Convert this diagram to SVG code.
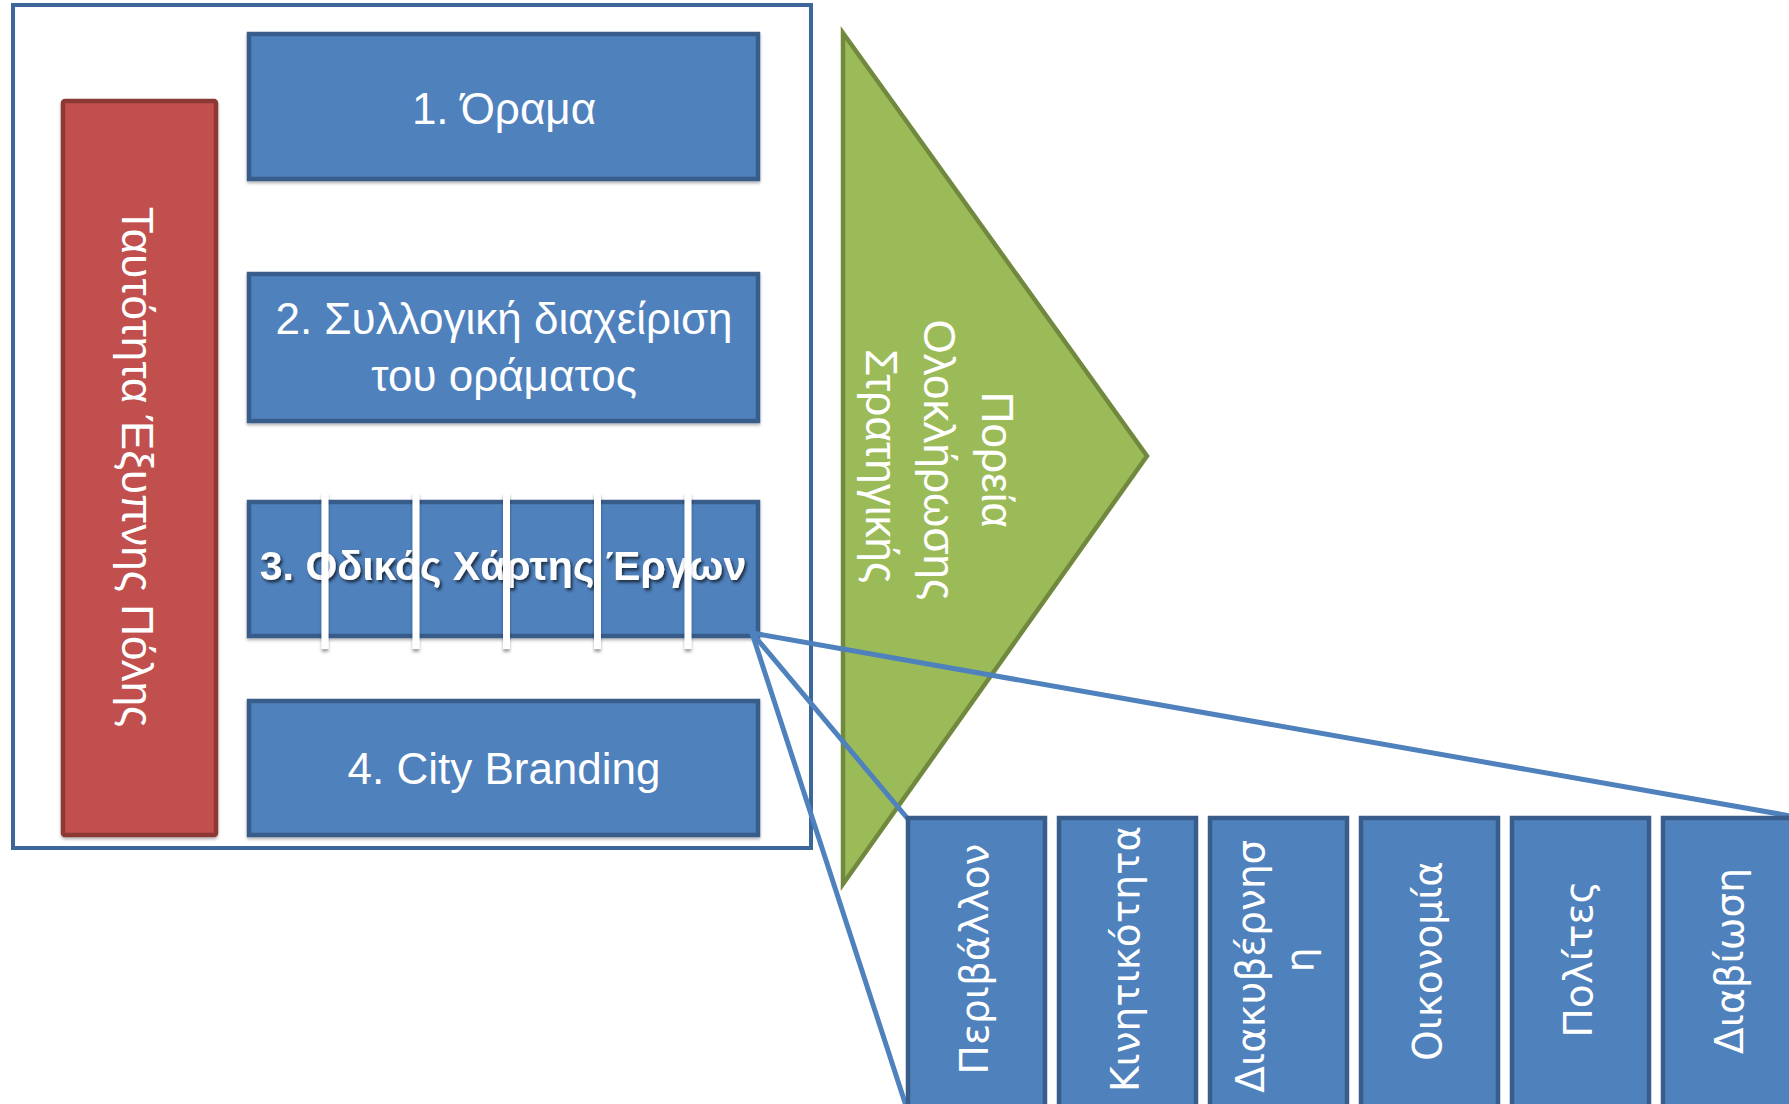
<svg xmlns="http://www.w3.org/2000/svg" width="1789" height="1104" viewBox="0 0 1789 1104">
  <defs>
    <filter id="boxShadow" x="-10%" y="-10%" width="120%" height="130%">
      <feDropShadow dx="0" dy="2" stdDeviation="1.5" flood-color="#000" flood-opacity="0.3"/>
    </filter>
    <filter id="textShadow" x="-10%" y="-30%" width="120%" height="160%">
      <feDropShadow dx="2" dy="2.5" stdDeviation="1.5" flood-color="#000" flood-opacity="0.65"/>
    </filter>
    <filter id="barShadow" x="-100%" y="-10%" width="300%" height="120%">
      <feDropShadow dx="0" dy="3" stdDeviation="1.5" flood-color="#000" flood-opacity="0.35"/>
    </filter>
  </defs>
  <style>
    .frame { fill: #fff; stroke: #3D679B; stroke-width: 4; }
    .blue { fill: #4F81BD; stroke: #385D8A; stroke-width: 4.5; }
    .red { fill: #C0504D; stroke: #8C3836; stroke-width: 4.5; }
    .green { fill: #9BBB59; stroke: #71893F; stroke-width: 4.5; stroke-linejoin: miter; }
    .t { font-family: "Liberation Sans", Arial, sans-serif; font-size: 44px; fill: #fff; text-anchor: middle; }
    .tb { font-family: "Liberation Sans", Arial, sans-serif; font-size: 41px; font-weight: bold; fill: #fff; text-anchor: middle; }
    .ts { font-family: "DejaVu Sans", Verdana, sans-serif; font-size: 39px; fill: #fff; text-anchor: middle; }
    .bar { fill: #fff; }
    .conn { stroke: #4F81BD; stroke-width: 5; fill: none; stroke-linecap: round; }
  </style>

  <g id="frame">
    <rect class="frame" x="13" y="5" width="798" height="843"/>
  </g>

  <g id="identity">
    <rect class="red" x="63" y="101" width="153" height="734" rx="2" filter="url(#boxShadow)"/>
    <text class="t" transform="translate(122,467) rotate(90)" x="0" y="0">Ταυτότητα Έξυπνης Πόλης</text>
  </g>

  <g id="box1">
    <rect class="blue" x="249" y="34" width="509" height="145" filter="url(#boxShadow)"/>
    <text class="t" x="504" y="124">1. Όραμα</text>
  </g>

  <g id="box2">
    <rect class="blue" x="249" y="274" width="509" height="147" filter="url(#boxShadow)"/>
    <text class="t" x="504" y="334">2. Συλλογική διαχείριση</text>
    <text class="t" x="504" y="391">του οράματος</text>
  </g>

  <g id="box3">
    <rect class="blue" x="249" y="502" width="509" height="134" filter="url(#boxShadow)"/>
    <text class="tb" x="503" y="580" filter="url(#textShadow)">3. Οδικός Χάρτης Έργων</text>
    <g filter="url(#barShadow)">
      <rect class="bar" x="321.5" y="492" width="7" height="157"/>
      <rect class="bar" x="412.5" y="492" width="7" height="157"/>
      <rect class="bar" x="503" y="492" width="7" height="157"/>
      <rect class="bar" x="594" y="492" width="7" height="157"/>
      <rect class="bar" x="684.5" y="492" width="7" height="157"/>
    </g>
  </g>

  <g id="box4">
    <rect class="blue" x="249" y="701" width="509" height="134" filter="url(#boxShadow)"/>
    <text class="t" x="504" y="784">4. City Branding</text>
  </g>

  <g id="strategy">
    <polygon class="green" points="843,33 1147,456 843,884"/>
    <text class="t" transform="translate(0,466) rotate(90)">
      <tspan x="0" y="-982">Πορεία</tspan>
      <tspan x="0" y="-924">Ολοκλήρωσης</tspan>
      <tspan x="0" y="-866">Στρατηγικής</tspan>
    </text>
  </g>

  <g id="connectors">
    <line class="conn" x1="752" y1="633" x2="908" y2="819"/>
    <line class="conn" x1="752" y1="633" x2="908" y2="1112"/>
    <line class="conn" x1="752" y1="633" x2="1802" y2="818"/>
  </g>

  <g id="area1">
    <rect class="blue" x="908" y="818" width="137" height="300"/>
    <text class="ts" transform="translate(988,959) rotate(-90)">Περιβάλλον</text>
  </g>
  <g id="area2">
    <rect class="blue" x="1059" y="818" width="137" height="300"/>
    <text class="ts" transform="translate(1139,959) rotate(-90)">Κινητικότητα</text>
  </g>
  <g id="area3">
    <rect class="blue" x="1210" y="818" width="137" height="300"/>
    <text class="ts" transform="translate(0,960) rotate(-90)">
      <tspan x="0" y="1264">Διακυβέρνησ</tspan>
      <tspan x="0" y="1313">η</tspan>
    </text>
  </g>
  <g id="area4">
    <rect class="blue" x="1361" y="818" width="137" height="300"/>
    <text class="ts" transform="translate(1441,961) rotate(-90)">Οικονομία</text>
  </g>
  <g id="area5">
    <rect class="blue" x="1512" y="818" width="137" height="300"/>
    <text class="ts" transform="translate(1592,959) rotate(-90)">Πολίτες</text>
  </g>
  <g id="area6">
    <rect class="blue" x="1663" y="818" width="137" height="300"/>
    <text class="ts" transform="translate(1743,961) rotate(-90)">Διαβίωση</text>
  </g>
</svg>
